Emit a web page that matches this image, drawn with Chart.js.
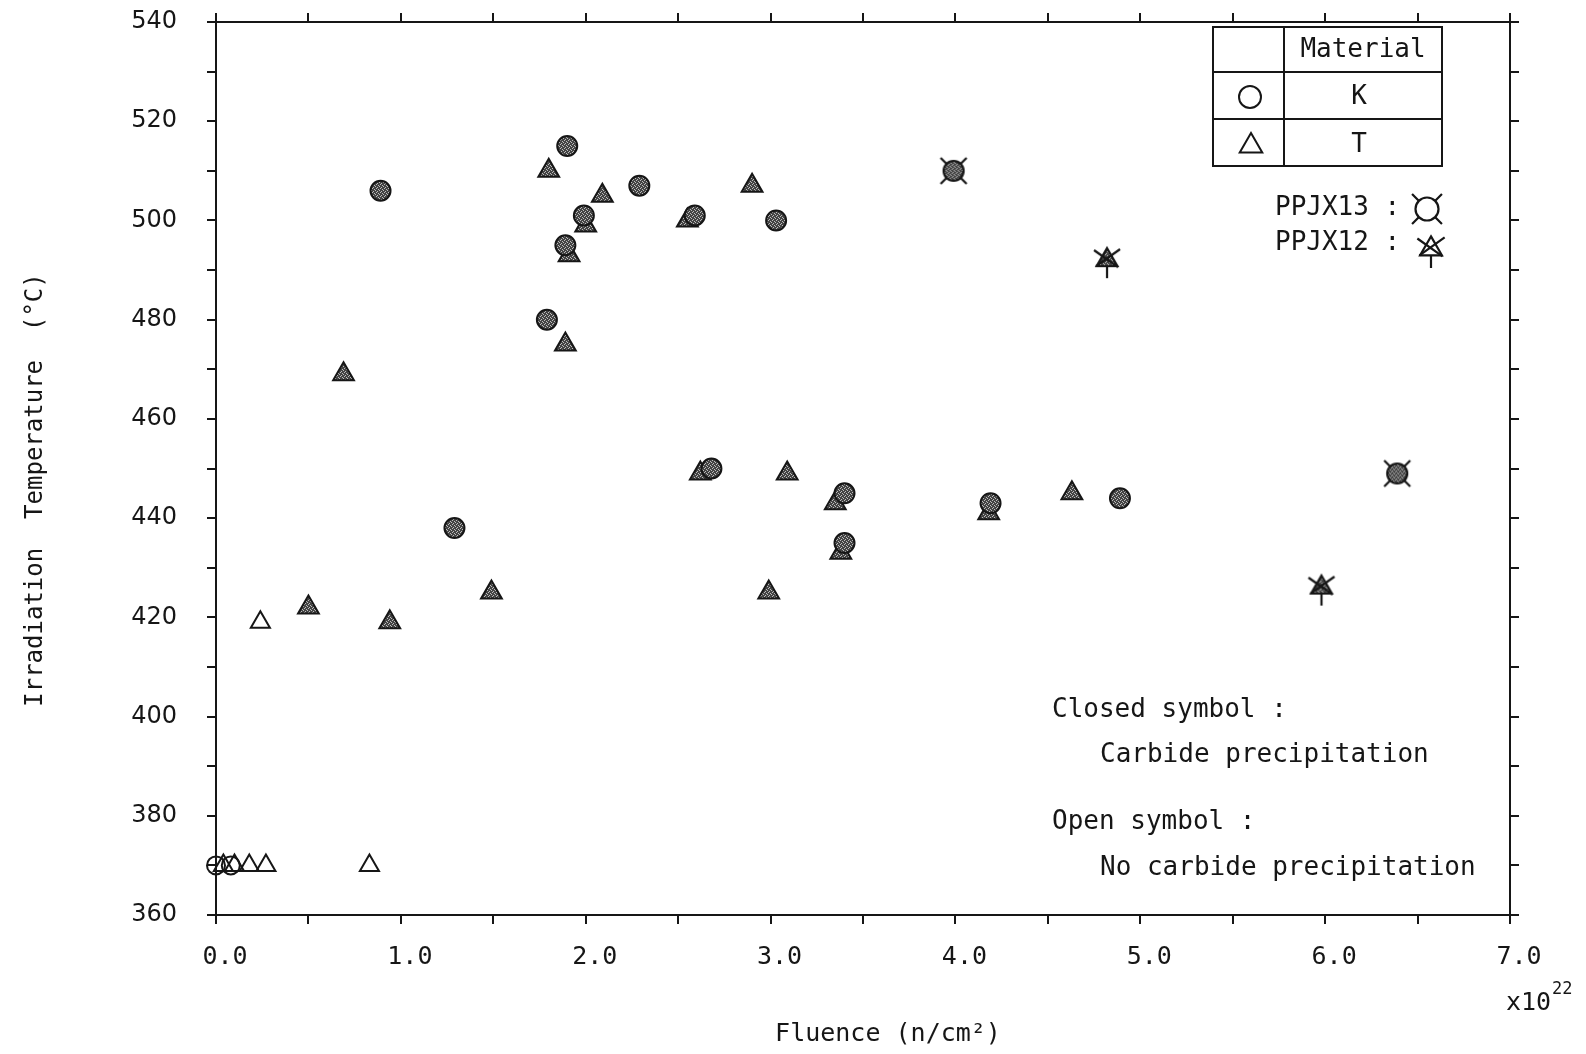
<!DOCTYPE html>
<html>
<head>
<meta charset="utf-8">
<title>Irradiation Temperature vs Fluence</title>
<script src="https://cdn.jsdelivr.net/npm/chart.js@4.4.0/dist/chart.umd.min.js"></script>
<style>
    html, body { margin: 0; padding: 0; background: #ffffff; }
    #wrap { width: 1586px; height: 1054px; }
</style>
</head>
<body>
<div id="wrap"><canvas id="fig" width="1586" height="1054"></canvas></div>
<script>
// Fluence in units of 1e22 n/cm2, temperature in degC

// Material K, carbide precipitation (closed circles)
const kClosedFluence = [0.89, 1.29, 1.79, 1.89, 1.90, 1.99, 2.29, 2.59, 2.68, 3.03, 3.40, 3.40, 4.19, 4.89];
const kClosedTemp    = [506, 438, 480, 495, 515, 501, 507, 501, 450, 500, 445, 435, 443, 444];

// Material T, carbide precipitation (closed triangles)
const tClosedFluence = [0.50, 0.69, 0.94, 1.49, 1.80, 1.89, 1.91, 2.00, 2.09, 2.55, 2.62, 2.90, 2.99, 3.09, 3.35, 3.38, 4.18, 4.63];
const tClosedTemp    = [422, 469, 419, 425, 510, 475, 493, 499, 505, 500, 449, 507, 425, 449, 443, 433, 441, 445];

// No carbide precipitation (open symbols)
const kOpenFluence = [0.00, 0.08];
const kOpenTemp    = [370, 370];
const tOpenFluence = [0.04, 0.10, 0.18, 0.27, 0.24, 0.83];
const tOpenTemp    = [370, 370, 370, 370, 419, 370];

// Capsules PPJX13 (K) and PPJX12 (T)
const ppjx13Fluence = [3.99, 6.39];
const ppjx13Temp    = [510, 449];
const ppjx12Fluence = [4.82, 5.98];
const ppjx12Temp    = [492, 426];

// Axes
const xMin = 0, xMax = 7, xStep = 0.5;
const yMin = 360, yMax = 540, yStep = 10, yLabelStep = 20;

const X_TITLE = 'Fluence (n/cm\u00B2)';
const Y_TITLE = 'Irradiation  Temperature  (\u00B0C)';
const X_EXP_BASE = 'x10';
const X_EXP_POWER = '22';
const TABLE_HEAD = 'Material';
const TABLE_ROWS = ['K', 'T'];
const CAPSULE_LABELS = ['PPJX13 :', 'PPJX12 :'];
const NOTE_LINES = ['Closed symbol :', 'Carbide precipitation', 'Open symbol :', 'No carbide precipitation'];

const MONO = '"DejaVu Sans Mono", "Liberation Mono", monospace';
const SANS = '"DejaVu Sans", "Liberation Sans", sans-serif';
const INK = '#161616';

function toPoints(xs, ys) {
    return xs.map((x, i) => ({ x: x, y: ys[i] }));
}

// Dark stippled fill used for the closed symbols
function stipple() {
    const c = document.createElement('canvas');
    c.width = 4; c.height = 4;
    const g = c.getContext('2d');
    g.fillStyle = '#444444';
    g.fillRect(0, 0, 4, 4);
    g.fillStyle = '#bdbdbd';
    g.fillRect(0, 0, 1, 1);
    g.fillRect(2, 1, 1, 1);
    g.fillRect(1, 3, 1, 1);
    g.fillRect(3, 2, 1, 1);
    return g.createPattern(c, 'repeat');
}
const FILL = stipple();

// Shape helpers shared by the markers and the key
function pathCircle(g, x, y, r) {
    g.beginPath();
    g.arc(x, y, r, 0, Math.PI * 2);
}
function pathTriangle(g, x, y, r) {
    const h = r * Math.sqrt(3) / 2;
    g.beginPath();
    g.moveTo(x, y - r);
    g.lineTo(x + h, y + r / 2);
    g.lineTo(x - h, y + r / 2);
    g.closePath();
}
function drawCapsule13(g, x, y, s, fill) {
    g.lineWidth = 2.2;
    g.strokeStyle = INK;
    g.beginPath();
    [[-1, -1], [1, -1], [-1, 1], [1, 1]].forEach(([dx, dy]) => {
        g.moveTo(x + dx * 5 * s, y + dy * 5 * s);
        g.lineTo(x + dx * 13 * s, y + dy * 13 * s);
    });
    g.stroke();
    pathCircle(g, x, y, 10 * s);
    g.fillStyle = fill;
    g.fill();
    g.stroke();
}
function drawCapsule12(g, x, y, s, fill) {
    g.lineWidth = 2.2;
    g.strokeStyle = INK;
    pathTriangle(g, x, y, 12 * s);
    g.fillStyle = fill;
    g.fill();
    g.stroke();
    g.beginPath();
    g.moveTo(x - 13 * s, y - 10 * s);
    g.lineTo(x + 11 * s, y + 7 * s);
    g.moveTo(x + 13 * s, y - 11 * s);
    g.lineTo(x - 11 * s, y + 6 * s);
    g.moveTo(x, y + 6 * s);
    g.lineTo(x, y + 18 * s);
    g.stroke();
}

// Marker images for the capsule points
function glyph(draw) {
    const c = document.createElement('canvas');
    c.width = 44; c.height = 44;
    const g = c.getContext('2d');
    draw(g, 22, 22, 1, FILL);
    return c;
}
const capsule13Mark = glyph(drawCapsule13);
const capsule12Mark = glyph(drawCapsule12);

// Key table, capsule key and notes
const annotations = {
    id: 'annotations',
    afterDraw(chart) {
        const g = chart.ctx;
        g.save();
        g.fillStyle = INK;
        g.strokeStyle = INK;

        // axis titles
        g.textAlign = 'center';
        g.textBaseline = 'middle';
        g.font = `24px ${MONO}`;
        g.save();
        g.translate(36, 490);
        g.rotate(-Math.PI / 2);
        g.fillText(Y_TITLE, 0, 0);
        g.restore();
        g.font = `25px ${MONO}`;
        g.fillText(X_TITLE, 888, 1034);

        g.textAlign = 'left';
        g.textBaseline = 'alphabetic';
        g.font = `25px ${MONO}`;
        g.fillText(X_EXP_BASE, 1506, 1010);
        g.font = `17px ${MONO}`;
        g.fillText(X_EXP_POWER, 1552, 994);

        // material table
        const L = 1213, M = 1284, R = 1442, T = 27, r1 = 72, r2 = 119, B = 166;
        g.fillStyle = '#ffffff';
        g.fillRect(L, T, R - L, B - T);
        g.fillStyle = INK;
        g.lineWidth = 2;
        g.strokeRect(L, T, R - L, B - T);
        g.beginPath();
        g.moveTo(M, T); g.lineTo(M, B);
        g.moveTo(L, r1); g.lineTo(R, r1);
        g.moveTo(L, r2); g.lineTo(R, r2);
        g.stroke();

        g.textAlign = 'center';
        g.textBaseline = 'middle';
        g.font = `26px ${MONO}`;
        g.fillText(TABLE_HEAD, (M + R) / 2, (T + r1) / 2 + 1);
        g.fillText(TABLE_ROWS[0], (M + R) / 2 - 4, (r1 + r2) / 2 + 2);
        g.fillText(TABLE_ROWS[1], (M + R) / 2 - 4, (r2 + B) / 2 + 3);

        g.lineWidth = 2;
        pathCircle(g, 1250, 97, 11);
        g.stroke();
        pathTriangle(g, 1251, 146, 13);
        g.stroke();

        // capsule key
        g.textAlign = 'left';
        g.font = `26px ${MONO}`;
        g.fillText(CAPSULE_LABELS[0], 1275, 208);
        g.fillText(CAPSULE_LABELS[1], 1275, 243);
        drawCapsule13(g, 1427, 209, 1.15, '#ffffff');
        drawCapsule12(g, 1431, 249, 1.05, '#ffffff');

        // symbol notes
        g.fillStyle = INK;
        g.font = `26px ${MONO}`;
        g.fillText(NOTE_LINES[0], 1052, 710);
        g.fillText(NOTE_LINES[1], 1100, 755);
        g.fillText(NOTE_LINES[2], 1052, 822);
        g.fillText(NOTE_LINES[3], 1100, 868);

        g.restore();
    }
};

function frameGrid() {
    return { drawOnChartArea: false, drawTicks: true, tickLength: 9, color: INK, lineWidth: 2 };
}
function frameBorder() {
    return { display: true, color: INK, width: 2 };
}
// Pin each axis box so the plot frame sits where it should
function pinSize(prop, size) {
    return s => {
        s[prop] = size;
        s.paddingTop = 0;
        s.paddingBottom = 0;
        s.paddingLeft = 0;
        s.paddingRight = 0;
    };
}

const ctx = document.getElementById('fig').getContext('2d');

new Chart(ctx, {
    type: 'scatter',
    data: {
        datasets: [
            {
                label: 'PPJX13',
                data: toPoints(ppjx13Fluence, ppjx13Temp),
                pointStyle: capsule13Mark,
                clip: false
            },
            {
                label: 'PPJX12',
                data: toPoints(ppjx12Fluence, ppjx12Temp),
                pointStyle: capsule12Mark,
                clip: false
            },
            {
                label: 'K carbide',
                data: toPoints(kClosedFluence, kClosedTemp),
                pointStyle: 'circle',
                pointRadius: 10,
                backgroundColor: FILL,
                borderColor: INK,
                borderWidth: 2,
                clip: false
            },
            {
                label: 'T carbide',
                data: toPoints(tClosedFluence, tClosedTemp),
                pointStyle: 'triangle',
                pointRadius: 12,
                backgroundColor: FILL,
                borderColor: INK,
                borderWidth: 2,
                clip: false
            },
            {
                label: 'K no carbide',
                data: toPoints(kOpenFluence, kOpenTemp),
                pointStyle: 'circle',
                pointRadius: 9,
                backgroundColor: 'rgba(0,0,0,0)',
                borderColor: INK,
                borderWidth: 2,
                clip: false
            },
            {
                label: 'T no carbide',
                data: toPoints(tOpenFluence, tOpenTemp),
                pointStyle: 'triangle',
                pointRadius: 11,
                backgroundColor: 'rgba(0,0,0,0)',
                borderColor: INK,
                borderWidth: 2,
                clip: false
            }
        ]
    },
    options: {
        responsive: false,
        animation: false,
        devicePixelRatio: 1,
        layout: { padding: 0 },
        plugins: {
            legend: { display: false },
            tooltip: { enabled: false }
        },
        scales: {
            x: {
                type: 'linear',
                position: 'bottom',
                min: xMin,
                max: xMax,
                grid: frameGrid(),
                border: frameBorder(),
                ticks: {
                    stepSize: xStep,
                    autoSkip: false,
                    maxRotation: 0,
                    padding: 18,
                    labelOffset: 9,
                    color: INK,
                    font: { family: MONO, size: 25 },
                    callback: v => Number.isInteger(v) ? v.toFixed(1) : ''
                },
                afterFit: pinSize('height', 139)
            },
            xTop: {
                type: 'linear',
                position: 'top',
                min: xMin,
                max: xMax,
                grid: frameGrid(),
                border: frameBorder(),
                ticks: { stepSize: xStep, autoSkip: false, display: false },
                afterFit: pinSize('height', 22)
            },
            y: {
                type: 'linear',
                position: 'left',
                min: yMin,
                max: yMax,
                grid: frameGrid(),
                border: frameBorder(),
                ticks: {
                    stepSize: yStep,
                    autoSkip: false,
                    padding: 30,
                    color: INK,
                    font: { family: SANS, size: 24 },
                    callback: v => v % yLabelStep === 0 ? String(v) : ''
                },
                afterFit: pinSize('width', 216)
            },
            yRight: {
                type: 'linear',
                position: 'right',
                min: yMin,
                max: yMax,
                grid: frameGrid(),
                border: frameBorder(),
                ticks: { stepSize: yStep, autoSkip: false, display: false },
                afterFit: pinSize('width', 76)
            }
        }
    },
    plugins: [annotations]
});
</script>
</body>
</html>
